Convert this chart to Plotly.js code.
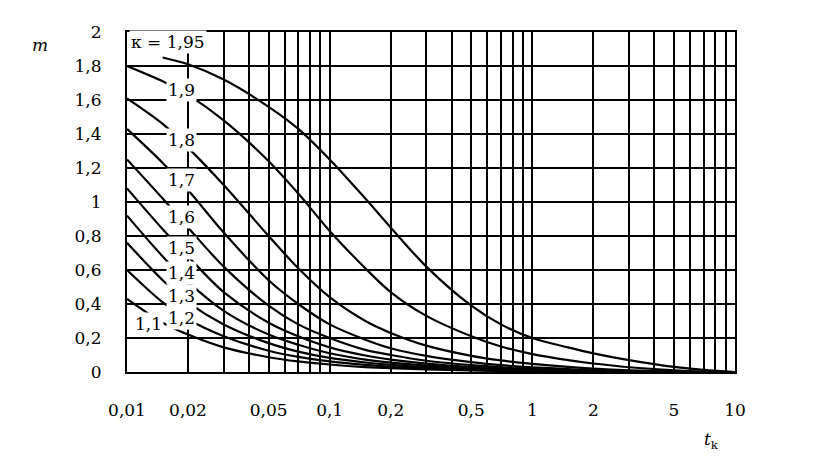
<!DOCTYPE html>
<html><head><meta charset="utf-8">
<script src="https://cdn.plot.ly/plotly-3.0.1.min.js"></script>
<style>html,body{margin:0;padding:0;background:#fff}#chart{width:835px;height:475px}</style>
</head><body><div id="chart"></div>
<script>
// time t_k (s)
const tk = [0.01, 0.015, 0.02, 0.03, 0.05, 0.07, 0.1, 0.15, 0.2, 0.3, 0.5, 0.7, 1, 1.5, 2, 3, 5, 7, 10];
// kappa values of each curve
const kappa = ['1,95', '1,9', '1,8', '1,7', '1,6', '1,5', '1,4', '1,3', '1,2', '1,1'];
// m for each kappa
const m195 = [null, 1.85, 1.81, 1.72, 1.56, 1.43, 1.25, 1.02, 0.85, 0.62, 0.39, 0.28, 0.2, 0.145, 0.11, 0.07, 0.03, 0.012, 0.0];
const m190 = [1.80, 1.71, 1.63, 1.48, 1.24, 1.05, 0.83, 0.61, 0.47, 0.33, 0.21, 0.15, 0.105, 0.07, 0.05, 0.028, 0.01, 0.003, 0.0];
const m180 = [1.61, 1.46, 1.32, 1.10, 0.80, 0.61, 0.44, 0.30, 0.23, 0.155, 0.095, 0.068, 0.048, 0.03, 0.02, 0.01, 0.003, 0.0, 0.0];
const m170 = [1.43, 1.23, 1.07, 0.82, 0.54, 0.40, 0.28, 0.19, 0.14, 0.095, 0.058, 0.04, 0.028, 0.017, 0.01, 0.004, 0.0, 0.0, 0.0];
const m160 = [1.25, 1.02, 0.85, 0.62, 0.39, 0.28, 0.20, 0.13, 0.10, 0.066, 0.04, 0.028, 0.018, 0.01, 0.005, 0.0, 0.0, 0.0, 0.0];
const m150 = [1.08, 0.84, 0.68, 0.47, 0.29, 0.21, 0.145, 0.097, 0.073, 0.049, 0.029, 0.02, 0.012, 0.006, 0.003, 0.0, 0.0, 0.0, 0.0];
const m140 = [0.92, 0.68, 0.53, 0.36, 0.22, 0.16, 0.11, 0.073, 0.055, 0.037, 0.022, 0.015, 0.009, 0.004, 0.001, 0.0, 0.0, 0.0, 0.0];
const m130 = [0.76, 0.54, 0.41, 0.28, 0.17, 0.12, 0.083, 0.056, 0.042, 0.028, 0.017, 0.011, 0.006, 0.002, 0.0, 0.0, 0.0, 0.0, 0.0];
const m120 = [0.60, 0.41, 0.31, 0.21, 0.125, 0.089, 0.062, 0.042, 0.031, 0.021, 0.012, 0.008, 0.004, 0.001, 0.0, 0.0, 0.0, 0.0, 0.0];
const m110 = [0.43, 0.29, 0.22, 0.145, 0.087, 0.062, 0.044, 0.029, 0.022, 0.015, 0.009, 0.006, 0.003, 0.001, 0.0, 0.0, 0.0, 0.0, 0.0];
const series = [m195, m190, m180, m170, m160, m150, m140, m130, m120, m110];

const xTickVals = [0.01, 0.02, 0.05, 0.1, 0.2, 0.5, 1, 2, 5, 10];
const xTickText = ['0,01', '0,02', '0,05', '0,1', '0,2', '0,5', '1', '2', '5', '10'];
const xGridExtra = [0.03, 0.04, 0.06, 0.07, 0.08, 0.09, 0.3, 0.4, 0.6, 0.7, 0.8, 0.9, 3, 4, 6, 7, 8, 9];
const yTickVals = [0, 0.2, 0.4, 0.6, 0.8, 1, 1.2, 1.4, 1.6, 1.8, 2];
const yTickText = ['0', '0,2', '0,4', '0,6', '0,8', '1', '1,2', '1,4', '1,6', '1,8', '2'];

// label placement (layout)
const labelPlace = [[0.0159, 1.94], [0.0185, 1.66], [0.0185, 1.365], [0.0185, 1.13], [0.0185, 0.91],
                    [0.0185, 0.73], [0.0185, 0.585], [0.0185, 0.45], [0.0185, 0.32], [0.0127, 0.28]];

const FONT = 'DejaVu Serif, serif';
const traces = series.map((ys, i) => ({
  x: tk, y: ys, type: 'scatter', mode: 'lines', name: kappa[i],
  line: {color: '#000', width: 2.2, shape: 'spline', smoothing: 0.9},
  showlegend: false, hoverinfo: 'skip', connectgaps: false
}));

const annotations = kappa.map((k, i) => ({
  x: Math.log10(labelPlace[i][0]), y: labelPlace[i][1], xref: 'x', yref: 'y',
  text: i === 0 ? 'κ = ' + k : k, showarrow: false, bgcolor: '#fff', borderpad: 1,
  xanchor: 'center', yanchor: 'middle', font: {family: FONT, size: 17, color: '#000'}
}));
annotations.push({x: -0.143, y: 0.962, xref: 'paper', yref: 'paper', text: '<i>m</i>', showarrow: false,
  xanchor: 'center', yanchor: 'middle', font: {family: FONT, size: 17, color: '#000'}});
annotations.push({x: 0.962, y: -0.2, xref: 'paper', yref: 'paper', text: '<i>t</i><sub>k</sub>', showarrow: false,
  xanchor: 'center', yanchor: 'middle', font: {family: FONT, size: 17, color: '#000'}});

const layout = {
  width: 835, height: 475,
  margin: {l: 127, r: 100, t: 32, b: 103},
  paper_bgcolor: '#fff', plot_bgcolor: '#fff',
  showlegend: false, hovermode: false,
  xaxis: {
    type: 'log', range: [-2, 1], tickmode: 'array', tickvals: xTickVals, ticktext: xTickText,
    showgrid: true, gridcolor: '#000', gridwidth: 1.8, zeroline: false,
    showline: true, linecolor: '#000', linewidth: 2, mirror: true, ticks: '',
    ticklabelstandoff: 22,
    tickfont: {family: FONT, size: 17, color: '#000'},
    minor: {tickmode: 'array', tickvals: xGridExtra, showgrid: true, gridcolor: '#000', gridwidth: 1.8, ticks: ''}
  },
  yaxis: {
    range: [0, 2], tickmode: 'array', tickvals: yTickVals, ticktext: yTickText,
    showgrid: true, gridcolor: '#000', gridwidth: 1.8, zeroline: false,
    showline: true, linecolor: '#000', linewidth: 2, mirror: true, ticks: '',
    ticklabelstandoff: 20,
    tickfont: {family: FONT, size: 17, color: '#000'}
  },
  annotations: annotations
};

Plotly.newPlot('chart', traces, layout, {displayModeBar: false, staticPlot: true});
</script>
</body></html>
